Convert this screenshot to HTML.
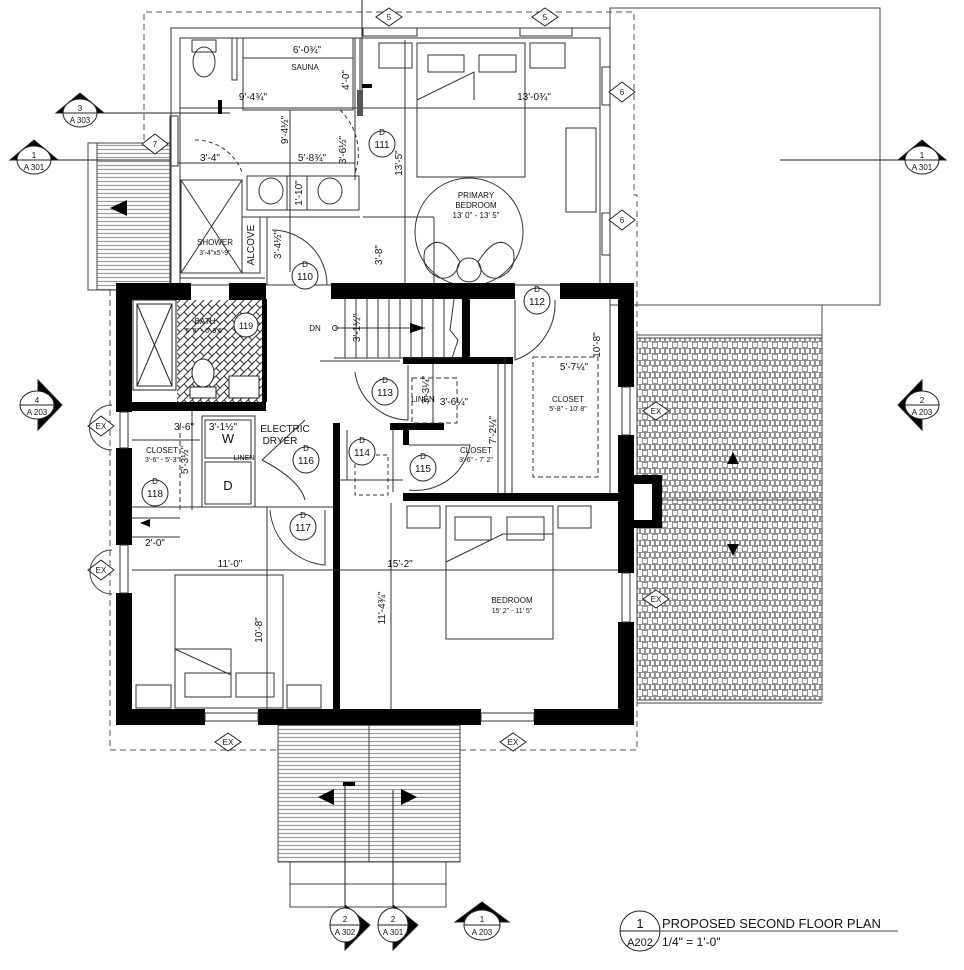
<!DOCTYPE html>
<html><head><meta charset="utf-8"><style>
html,body{margin:0;padding:0;background:#fff}
svg{display:block;font-family:"Liberation Sans",sans-serif}
text{fill:#111}
</style></head><body>
<svg width="964" height="970" viewBox="0 0 964 970" xmlns="http://www.w3.org/2000/svg">
<defs>
<pattern id="hz" width="12" height="4" patternUnits="userSpaceOnUse">
<rect width="12" height="4" fill="#fff"/><line x1="0" y1="1.5" x2="12" y2="1.5" stroke="#999" stroke-width="1.2"/>
</pattern>
<pattern id="sh" width="10" height="12" patternUnits="userSpaceOnUse">
<rect width="10" height="12" fill="#fff"/><rect x="0.5" y="0.5" width="4" height="5" fill="none" stroke="#777" stroke-width="0.8"/><rect x="5.5" y="0.5" width="4" height="5" fill="none" stroke="#777" stroke-width="0.8"/><rect x="2.5" y="6.5" width="5" height="5" fill="none" stroke="#777" stroke-width="0.8"/>
</pattern>
<pattern id="hb" width="8" height="8" patternUnits="userSpaceOnUse">
<rect width="8" height="8" fill="#fff"/><path d="M0 8 L8 0 M-2 2 L2 -2 M6 10 L10 6" stroke="#333" stroke-width="1"/><path d="M0 0 L4 4" stroke="#333" stroke-width="1"/>
</pattern>
</defs>

<g fill="none" stroke="#555" stroke-width="1" stroke-dasharray="6,4">
<path d="M144 260 V12 H634 V195 H637 V750 H110 V260 H144"/>
</g>

<rect x="610" y="8" width="270" height="297" fill="none" stroke="#444" stroke-width="1"/>
<line x1="822" y1="305" x2="822" y2="338" stroke="#444"/>
<line x1="780" y1="160" x2="935" y2="160" stroke="#222"/>

<rect x="637" y="338" width="185" height="362" fill="url(#sh)" stroke="#444"/>
<line x1="637" y1="335" x2="822" y2="335" stroke="#444"/>
<line x1="637" y1="703" x2="822" y2="703" stroke="#444"/>
<line x1="662" y1="500" x2="822" y2="500" stroke="#444"/>
<polygon points="733,452 727,464 739,464" fill="#000"/>
<polygon points="733,556 727,544 739,544" fill="#000"/>

<rect x="88" y="143" width="9" height="147" fill="#fff" stroke="#444"/>
<rect x="97" y="143" width="73" height="147" fill="url(#hz)" stroke="#444"/>
<polygon points="110,208 127,200 127,216" fill="#000"/>
<line x1="20" y1="160" x2="170" y2="160" stroke="#222"/>
<line x1="60" y1="113" x2="230" y2="113" stroke="#222"/>

<rect x="278" y="725" width="182" height="137" fill="url(#hz)" stroke="#444"/>
<rect x="290" y="862" width="156" height="45" fill="#fff" stroke="#444"/>
<line x1="290" y1="884" x2="446" y2="884" stroke="#444"/>
<line x1="369" y1="725" x2="369" y2="862" stroke="#444"/>
<polygon points="318,797 334,789 334,805" fill="#000"/>
<polygon points="417,797 401,789 401,805" fill="#000"/>
<line x1="345" y1="784" x2="345" y2="935" stroke="#222"/>
<rect x="343" y="782" width="12" height="4" fill="#000"/>
<line x1="393" y1="790" x2="393" y2="935" stroke="#222"/>
<line x1="362" y1="0" x2="362" y2="100" stroke="#222"/>

<g fill="none" stroke="#333" stroke-width="1">
<rect x="171" y="28" width="439" height="257"/>
<rect x="180" y="38" width="420" height="247"/>
<rect x="243" y="38" width="110" height="72"/>
<line x1="243" y1="58" x2="353" y2="58"/>
<rect x="232" y="38" width="5" height="42"/>
<line x1="355" y1="38" x2="355" y2="180"/>
<line x1="360" y1="38" x2="360" y2="110"/>
<rect x="181" y="180" width="61" height="93"/>
<path d="M181 180 L242 273 M242 180 L181 273"/>
<rect x="247" y="176" width="112" height="34"/>
<rect x="287" y="176" width="20" height="34"/>
<ellipse cx="271" cy="191" rx="12" ry="13"/>
<ellipse cx="330" cy="191" rx="12" ry="13"/>
<rect x="242" y="217" width="18" height="56"/>
<line x1="260" y1="217" x2="360" y2="217"/>
<line x1="363" y1="217" x2="434" y2="217"/>
<line x1="267" y1="217" x2="267" y2="285"/>
<line x1="180" y1="278" x2="265" y2="278"/>
<path d="M178 163 H245 M245 163 H355"/>
<line x1="290" y1="110" x2="290" y2="272"/>
<line x1="405" y1="40" x2="405" y2="283"/>
<line x1="434" y1="217" x2="434" y2="283"/>
<line x1="180" y1="108" x2="600" y2="108"/>
<path d="M195 140 A50 50 0 0 1 242 172" stroke-dasharray="4,3"/>
<path d="M340 110 A60 60 0 0 1 355 173" stroke-dasharray="4,3"/>
<path d="M272 230 A55 55 0 0 1 327 285"/>
<ellipse cx="204" cy="62" rx="11" ry="15"/>
<rect x="192" y="40" width="24" height="12"/>
<rect x="379" y="43" width="33" height="25"/>
<rect x="530" y="43" width="35" height="25"/>
<rect x="417" y="43" width="108" height="134"/>
<rect x="428" y="55" width="36" height="17"/>
<rect x="479" y="55" width="37" height="17"/>
<path d="M417 100 L474 72 L474 100"/>
<circle cx="469" cy="232" r="54"/>
<rect x="566" y="128" width="30" height="84"/>
<path d="M425 250 Q440 230 460 262 Q455 280 440 278 Q420 270 425 250Z"/>
<path d="M513 250 Q498 230 478 262 Q483 280 498 278 Q518 270 513 250Z"/>
<circle cx="469" cy="270" r="12"/>
<rect x="363" y="28" width="54" height="8"/>
<rect x="520" y="28" width="52" height="8"/>
<rect x="602" y="67" width="8" height="38"/>
<rect x="602" y="213" width="8" height="42"/>
<rect x="170" y="116" width="8" height="50"/>
</g>
<rect x="218" y="100" width="4" height="14" fill="#000"/>
<rect x="362" y="84" width="10" height="4" fill="#000"/>
<rect x="357" y="90" width="6" height="26" fill="#555"/>

<g fill="#000">
<rect x="116" y="283" width="75" height="17"/>
<rect x="229" y="283" width="37" height="17"/>
<rect x="331" y="283" width="184" height="16"/>
<rect x="560" y="283" width="74" height="16"/>
<rect x="116" y="283" width="16" height="129"/>
<rect x="116" y="448" width="16" height="97"/>
<rect x="116" y="593" width="16" height="132"/>
<rect x="116" y="709" width="89" height="16"/>
<rect x="258" y="709" width="223" height="16"/>
<rect x="534" y="709" width="100" height="16"/>
<rect x="618" y="283" width="16" height="104"/>
<rect x="618" y="435" width="16" height="138"/>
<rect x="618" y="622" width="16" height="103"/>
<rect x="116" y="402" width="150" height="9"/>
<rect x="262" y="299" width="5" height="103"/>
<rect x="462" y="299" width="8" height="59"/>
<rect x="403" y="357" width="110" height="7"/>
<rect x="333" y="423" width="7" height="287"/>
<rect x="390" y="423" width="54" height="7"/>
<rect x="403" y="423" width="6" height="22"/>
<rect x="403" y="493" width="215" height="8"/>
<rect x="634" y="475" width="28" height="53"/>
</g>
<rect x="634" y="484" width="18" height="36" fill="#fff"/>

<g fill="#fff" stroke="#333" stroke-width="1">
<rect x="120" y="412" width="8" height="36"/>
<rect x="120" y="545" width="8" height="48"/>
<rect x="205" y="713" width="53" height="8"/>
<rect x="481" y="713" width="53" height="8"/>
<rect x="622" y="387" width="8" height="48"/>
<rect x="622" y="573" width="8" height="49"/>
</g>

<rect x="177" y="300" width="85" height="102" fill="url(#hb)"/>
<g fill="#fff" stroke="#222" stroke-width="1">
<rect x="133" y="300" width="43" height="90"/>
<rect x="137" y="304" width="35" height="82"/>
<ellipse cx="203" cy="373" rx="11" ry="14"/>
<rect x="190" y="387" width="26" height="11"/>
<rect x="229" y="376" width="30" height="22"/>
<circle cx="246" cy="325" r="12"/>
</g>
<path d="M137 304 L172 386 M172 304 L137 386" stroke="#222" fill="none"/>
<rect x="135" y="393" width="40" height="6" fill="#fff"/>

<g stroke="#333" stroke-width="1" fill="none">
<line x1="334" y1="358" x2="462" y2="358"/>
<line x1="320" y1="361" x2="400" y2="361"/>
<path d="M345 299 V358 M356 299 V358 M367 299 V358 M378 299 V358 M389 299 V358 M400 299 V358 M411 299 V358 M422 299 V358 M433 299 V358 M444 299 V358"/>
<line x1="335" y1="328" x2="425" y2="328"/>
<circle cx="335" cy="328" r="2.5"/>
<path d="M454 299 L450 330 L458 340 L452 358"/>
<rect x="533" y="357" width="65" height="120" stroke-dasharray="5,3"/>
<line x1="505" y1="357" x2="505" y2="493"/>
<line x1="512" y1="364" x2="512" y2="493"/>
<line x1="498" y1="364" x2="498" y2="493"/>
<line x1="610" y1="299" x2="610" y2="493"/>
<rect x="412" y="378" width="45" height="45" stroke-dasharray="5,3"/>
<line x1="433" y1="364" x2="433" y2="423"/>
<rect x="355" y="455" width="33" height="40" stroke-dasharray="4,3"/>
<line x1="347" y1="430" x2="347" y2="480"/>
<path d="M408 365 L408 420 A55 55 0 0 1 355 372"/>
<path d="M409 445 L470 445 A55 55 0 0 1 409 490"/>
<path d="M393 430 L393 492"/>
<path d="M515 300 L515 360 A60 60 0 0 0 555 300"/>
<path d="M180 425 V510" stroke-dasharray="5,3"/>
<line x1="132" y1="518" x2="180" y2="518"/>
<line x1="132" y1="440" x2="200" y2="440"/>
<line x1="192" y1="411" x2="192" y2="510"/>
<rect x="202" y="416" width="53" height="91"/>
<rect x="205" y="420" width="46" height="38"/>
<rect x="205" y="462" width="46" height="42"/>
<line x1="255" y1="416" x2="255" y2="507" stroke-dasharray="4,3"/>
<path d="M262 460 L305 420"/>
<path d="M262 460 Q300 480 305 500"/>
<path d="M270 510 A60 60 0 0 0 325 565 L325 510"/>
<line x1="132" y1="507" x2="333" y2="507"/>
<line x1="132" y1="537" x2="180" y2="537"/>
<line x1="132" y1="570" x2="618" y2="570"/>
<line x1="267" y1="507" x2="267" y2="709"/>
<line x1="391" y1="503" x2="391" y2="709"/>
<line x1="340" y1="480" x2="403" y2="480"/>
<rect x="175" y="575" width="108" height="133"/>
<rect x="185" y="673" width="46" height="24"/>
<rect x="236" y="673" width="38" height="24"/>
<path d="M175 649 L231 675 L231 649 Z"/>
<rect x="136" y="685" width="35" height="23"/>
<rect x="287" y="685" width="34" height="23"/>
<rect x="446" y="506" width="107" height="133"/>
<rect x="455" y="517" width="36" height="23"/>
<rect x="507" y="517" width="37" height="23"/>
<path d="M446 562 L503 534 L553 534"/>
<rect x="407" y="506" width="33" height="22"/>
<rect x="558" y="506" width="33" height="22"/>
</g>
<polygon points="425,328 410,323 410,333" fill="#000"/>
<polygon points="140,523 150,519 150,527" fill="#000"/>

<g fill="#fff" stroke="#222" stroke-width="1">
<circle cx="382" cy="144" r="13"/><circle cx="305" cy="276" r="13"/>
<circle cx="537" cy="301" r="13"/><circle cx="385" cy="392" r="13"/>
<circle cx="362" cy="452" r="13"/><circle cx="423" cy="468" r="13"/>
<circle cx="306" cy="460" r="13"/><circle cx="303" cy="527" r="13"/>
<circle cx="155" cy="493" r="13"/>
</g>
<g font-size="10" text-anchor="middle">
<text x="382" y="148">111</text><text x="382" y="135" font-size="8">D</text>
<text x="305" y="280">110</text><text x="305" y="267" font-size="8">D</text>
<text x="537" y="305">112</text><text x="537" y="292" font-size="8">D</text>
<text x="385" y="396">113</text><text x="385" y="383" font-size="8">D</text>
<text x="362" y="456">114</text><text x="362" y="443" font-size="8">D</text>
<text x="423" y="472">115</text><text x="423" y="459" font-size="8">D</text>
<text x="306" y="464">116</text><text x="306" y="451" font-size="8">D</text>
<text x="303" y="531">117</text><text x="303" y="518" font-size="8">D</text>
<text x="155" y="497">118</text><text x="155" y="484" font-size="8">D</text>
<text x="246" y="329" font-size="9">119</text>
</g>

<g font-size="8" text-anchor="middle">
<text x="305" y="70">SAUNA</text>
<text x="476" y="198">PRIMARY</text><text x="476" y="208">BEDROOM</text>
<text x="476" y="218">13' 0" -  13' 5"</text>
<text x="215" y="245">SHOWER</text><text x="215" y="255" font-size="7">3'-4"x5'-9"</text>
<text x="205" y="324">BATH</text><text x="205" y="333" font-size="7">5' 8" -  6' 9.5"</text>
<text x="568" y="402">CLOSET</text><text x="568" y="411" font-size="7">5'-8" - 10' 8"</text>
<text x="476" y="453">CLOSET</text><text x="476" y="462" font-size="7">3'-6" - 7' 2"</text>
<text x="162" y="453">CLOSET</text><text x="162" y="462" font-size="7">3'-6" - 5'-3"</text>
<text x="512" y="603">BEDROOM</text><text x="512" y="613" font-size="7">15' 2" -  11' 5"</text>
<text x="423" y="402">LINEN</text>
<text x="244" y="460" font-size="7">LINEN</text>
<text x="285" y="432" font-size="10">ELECTRIC</text>
<text x="280" y="444" font-size="10">DRYER</text>
<text x="228" y="443" font-size="13">W</text>
<text x="228" y="490" font-size="13">D</text>
<text x="315" y="331">DN</text>
</g>
<g font-size="10" text-anchor="middle">
<text x="307" y="53">6'-0¾"</text>
<text x="253" y="100">9'-4¾"</text>
<text x="534" y="100">13'-0¾"</text>
<text x="210" y="161">3'-4"</text>
<text x="312" y="161">5'-8¾"</text>
<text x="184" y="430">3'-6"</text>
<text x="223" y="430">3'-1½"</text>
<text x="155" y="546">2'-0"</text>
<text x="230" y="567">11'-0"</text>
<text x="400" y="567">15'-2"</text>
<text x="574" y="370">5'-7¼"</text>
<text x="454" y="405">3'-6¼"</text>
<text x="360" y="328" transform="rotate(-90 360 328)">3'-1½"</text>
<text x="349" y="80" transform="rotate(-90 349 80)">4'-0"</text>
<text x="288" y="130" transform="rotate(-90 288 130)">9'-4½"</text>
<text x="346" y="150" transform="rotate(-90 346 150)">3'-6½"</text>
<text x="402" y="163" transform="rotate(-90 402 163)">13'-5"</text>
<text x="302" y="193" transform="rotate(-90 302 193)">1'-10"</text>
<text x="281" y="245" transform="rotate(-90 281 245)">3'-4½"</text>
<text x="382" y="255" transform="rotate(-90 382 255)">3'-8"</text>
<text x="254" y="245" transform="rotate(-90 254 245)">ALCOVE</text>
<text x="600" y="345" transform="rotate(-90 600 345)">10'-8"</text>
<text x="429" y="390" transform="rotate(-90 429 390)">3'-3¼"</text>
<text x="496" y="430" transform="rotate(-90 496 430)">7'-2¼"</text>
<text x="188" y="460" transform="rotate(-90 188 460)">5'-3½"</text>
<text x="262" y="630" transform="rotate(-90 262 630)">10'-8"</text>
<text x="385" y="608" transform="rotate(-90 385 608)">11'-4¾"</text>
</g>

<g fill="#fff" stroke="#222" stroke-width="1" font-size="8" text-anchor="middle">
<polygon points="389,8 402,17 389,26 376,17"/><polygon points="545,8 558,17 545,26 532,17"/>
<polygon points="622,82 635,92 622,102 609,92"/><polygon points="622,210 635,220 622,230 609,220"/>
<polygon points="155,134 168,144 155,154 142,144"/>
<polygon points="101,416 114,426 101,436 88,426"/><polygon points="101,560 114,570 101,580 88,570"/>
<polygon points="228,733 241,742 228,751 215,742"/><polygon points="513,733 526,742 513,751 500,742"/>
<polygon points="656,402 669,411 656,420 643,411"/><polygon points="656,590 669,599 656,608 643,599"/>
</g>
<g font-size="8" text-anchor="middle">
<text x="389" y="20">5</text><text x="545" y="20">5</text><text x="622" y="95">6</text><text x="622" y="223">6</text><text x="155" y="147">7</text>
<text x="101" y="429">EX</text><text x="101" y="573">EX</text><text x="228" y="745">EX</text><text x="513" y="745">EX</text><text x="656" y="414">EX</text><text x="656" y="602">EX</text>
</g>
<path d="M112 405 A22 22 0 0 0 112 450 M112 550 A22 22 0 0 0 112 594" fill="none" stroke="#444"/>

<g stroke="#222" stroke-width="1">
<polygon points="56,113 80,93 104,113" fill="#000"/><ellipse cx="80" cy="113" rx="17" ry="14" fill="#fff"/><line x1="63" y1="113" x2="97" y2="113"/>
<polygon points="10,160 34,140 58,160" fill="#000"/><ellipse cx="34" cy="160" rx="17" ry="14" fill="#fff"/><line x1="17" y1="160" x2="51" y2="160"/>
<polygon points="898,160 922,140 946,160" fill="#000"/><ellipse cx="922" cy="160" rx="17" ry="14" fill="#fff"/><line x1="905" y1="160" x2="939" y2="160"/>
<polygon points="38,380 62,405 38,430" fill="#000"/><ellipse cx="37" cy="405" rx="17" ry="14" fill="#fff"/><line x1="20" y1="405" x2="54" y2="405"/>
<polygon points="922,380 898,405 922,430" fill="#000"/><ellipse cx="922" cy="405" rx="17" ry="14" fill="#fff"/><line x1="905" y1="405" x2="939" y2="405"/>
<polygon points="345,905 370,925 345,950" fill="#000"/><ellipse cx="345" cy="925" rx="15" ry="17" fill="#fff"/><line x1="330" y1="925" x2="360" y2="925"/>
<polygon points="393,905 418,925 393,950" fill="#000"/><ellipse cx="393" cy="925" rx="15" ry="17" fill="#fff"/><line x1="378" y1="925" x2="408" y2="925"/>
<polygon points="455,922 482,902 509,922" fill="#000"/><ellipse cx="482" cy="925" rx="18" ry="15" fill="#fff"/><line x1="464" y1="925" x2="500" y2="925"/>
</g>
<g font-size="8" text-anchor="middle">
<text x="80" y="111">3</text><text x="80" y="123">A 303</text>
<text x="34" y="158">1</text><text x="34" y="170">A 301</text>
<text x="922" y="158">1</text><text x="922" y="170">A 301</text>
<text x="37" y="403">4</text><text x="37" y="415">A 203</text>
<text x="922" y="403">2</text><text x="922" y="415">A 203</text>
<text x="345" y="922">2</text><text x="345" y="935">A 302</text>
<text x="393" y="922">2</text><text x="393" y="935">A 301</text>
<text x="482" y="922">1</text><text x="482" y="935">A 203</text>
</g>

<circle cx="640" cy="931" r="20" fill="#fff" stroke="#222"/>
<line x1="620" y1="931" x2="660" y2="931" stroke="#222"/>
<line x1="660" y1="931" x2="898" y2="931" stroke="#888" stroke-width="1.5"/>
<text x="640" y="928" font-size="13" text-anchor="middle">1</text>
<text x="640" y="946" font-size="11" text-anchor="middle">A202</text>
<text x="662" y="928" font-size="13">PROPOSED SECOND FLOOR PLAN</text>
<text x="662" y="946" font-size="12">1/4" = 1'-0"</text>
</svg>
</body></html>
